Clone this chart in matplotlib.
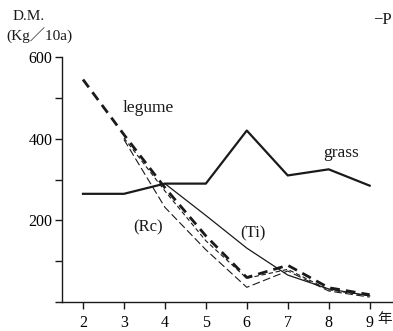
import matplotlib.pyplot as plt
from matplotlib.ticker import MultipleLocator

plt.rcParams['font.family'] = ['Liberation Serif', 'Noto Sans CJK JP']

# data
years = [2, 3, 4, 5, 6, 7, 8, 9]
grass = [265, 265, 290, 290, 420, 310, 325, 285]
legume = [545, 410, 280, 162, 60, 90, 35, 18]
legume2 = [None, 402, 272, 150, 58, 80, 30, 15]
rc = [None, 398, 232, 128, 36, 76, 27, 12]
ti_years = [4, 5, 6, 7, 8, 9]
ti = [290, 212, 132, 66, 32, 15]
yticks = [200, 400, 600]

ink = '#1a1a1a'

fig = plt.figure(figsize=(3.93, 3.31), dpi=100)
ax = fig.add_axes([0.158, 0.0876, 0.842, 0.740])

ax.plot(years, grass, color=ink, lw=1.6)
ax.plot(years, legume, color=ink, lw=2.0, dashes=(3.5, 2.2))
yl2 = [v if v is not None else float('nan') for v in legume2]
ax.plot(years, yl2, color=ink, lw=0.8, dashes=(4, 2.5))
yrc = [v if v is not None else float('nan') for v in rc]
ax.plot(years, yrc, color=ink, lw=0.8, dashes=(7, 3))
ax.plot(ti_years, ti, color=ink, lw=0.9)

ax.set_xlim(1.49, 9.57)
ax.set_ylim(0, 600)
ax.set_xticks(years)
ax.set_yticks(yticks)
ax.yaxis.set_minor_locator(MultipleLocator(100))
ax.tick_params(axis='both', which='both', direction='out', length=5,
               width=1.0, color=ink, labelsize=11.5, pad=2)
ax.tick_params(axis='x', pad=4)
for s in ['top', 'right']:
    ax.spines[s].set_visible(False)
for s in ['left', 'bottom']:
    ax.spines[s].set_linewidth(1.0)
    ax.spines[s].set_color(ink)

ax.text(3.6, 476, 'legume', fontsize=12.5, ha='center', va='center', color=ink)
ax.text(8.3, 366, 'grass', fontsize=12.5, ha='center', va='center', color=ink)
ax.text(3.6, 183, '(Rc)', fontsize=12, ha='center', va='center', color=ink)
ax.text(6.15, 168, '(Ti)', fontsize=12, ha='center', va='center', color=ink)

fig.text(13 / 393, 1 - 16 / 331, 'D.M.', fontsize=11, va='center', color=ink)
fig.text(6 / 393, 1 - 36 / 331, '(Kg／10a)', fontsize=11, va='center', color=ink)
fig.text(392 / 393, 1 - 20 / 331, '−P', fontsize=12, ha='right', va='center', color=ink)
fig.text(385 / 393, 1 - 320 / 331, '年', fontsize=10.5, ha='center', va='center', color=ink)

fig.savefig('out.png', dpi=100)
